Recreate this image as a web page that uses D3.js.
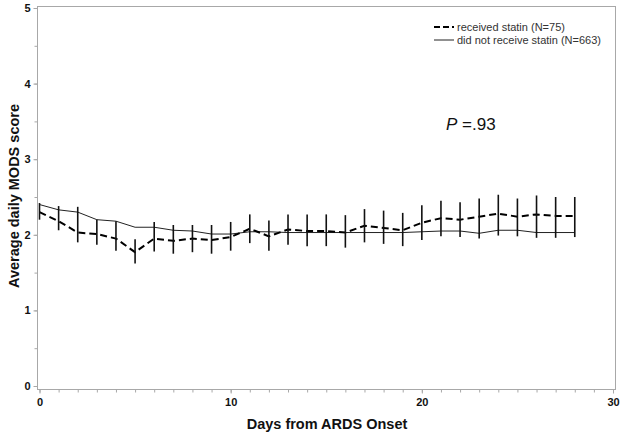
<!DOCTYPE html>
<html>
<head>
<meta charset="utf-8">
<script src="https://cdn.jsdelivr.net/npm/d3@7"></script>
<style>
  body { margin: 0; background: #fff; }
  svg { display: block; font-family: "Liberation Sans", Arial, sans-serif; }
</style>
</head>
<body>
<svg id="chart" width="624" height="434"></svg>
<script>
// days 0..28
const days = d3.range(0, 29);

// did not receive statin (solid)
const noStatin = [2.40, 2.33, 2.30, 2.20, 2.18, 2.10, 2.10, 2.06, 2.05, 2.01, 2.01, 2.04, 2.04, 2.03, 2.03,
                  2.03, 2.03, 2.03, 2.03, 2.03, 2.04, 2.05, 2.05, 2.02, 2.06, 2.06, 2.03, 2.03, 2.03];

// received statin (dashed)
const statin = [2.30, 2.18, 2.03, 2.01, 1.95, 1.77, 1.95, 1.92, 1.95, 1.93, 1.97, 2.08, 1.98, 2.07, 2.05,
                2.05, 2.03, 2.12, 2.09, 2.06, 2.16, 2.22, 2.20, 2.24, 2.28, 2.24, 2.27, 2.25, 2.25];

// error bar ends
const barLow  = [2.20, 2.06, 1.90, 1.87, 1.79, 1.62, 1.78, 1.75, 1.77, 1.75, 1.79, 1.89, 1.79, 1.87, 1.85,
                 1.85, 1.83, 1.90, 1.88, 1.85, 1.93, 1.98, 1.97, 1.95, 1.99, 1.98, 1.96, 1.96, 1.97];
const barHigh = [2.42, 2.38, 2.37, 2.20, 2.18, 1.94, 2.17, 2.13, 2.13, 2.13, 2.17, 2.27, 2.19, 2.27, 2.27,
                 2.27, 2.26, 2.34, 2.32, 2.29, 2.39, 2.45, 2.43, 2.48, 2.53, 2.48, 2.52, 2.50, 2.50];

const xTicks = [0, 10, 20, 30];
const yTicks = [0, 1, 2, 3, 4, 5];

const svg = d3.select('#chart');
const frame = { left: 37.5, right: 615.5, top: 6.5, bottom: 389.5 };

const x = d3.scaleLinear().domain([0, 30]).range([39.5, 613]);
const y = d3.scaleLinear().domain([0, 5]).range([386, 8]);

// frame
svg.append('rect')
    .attr('x', frame.left).attr('y', frame.top)
    .attr('width', frame.right - frame.left).attr('height', frame.bottom - frame.top)
    .attr('fill', 'none').attr('stroke', '#a8a8a8').attr('stroke-width', 1);

// x axis
const xAxis = svg.append('g').attr('transform', `translate(0,${frame.bottom})`);
xAxis.call(d3.axisBottom(x).tickValues(d3.range(0, 31)).tickSize(3).tickFormat(''))
    .call(g => g.select('.domain').remove())
    .call(g => g.selectAll('line').attr('stroke', '#a8a8a8'));
xAxis.append('g')
    .call(d3.axisBottom(x).tickValues(xTicks).tickSize(4).tickFormat(d3.format('d')))
    .call(g => g.select('.domain').remove())
    .call(g => g.selectAll('line').attr('stroke', '#a8a8a8'))
    .call(g => g.selectAll('text').attr('font-size', 11).attr('font-weight', 'bold')
        .attr('fill', '#111').attr('font-family', '"Liberation Sans", Arial, sans-serif').attr('dy', '0.9em'));

// y axis
const yAxis = svg.append('g').attr('transform', `translate(${frame.left},0)`);
yAxis.call(d3.axisLeft(y).tickValues(d3.range(0, 5.01, 0.5)).tickSize(3).tickFormat(''))
    .call(g => g.select('.domain').remove())
    .call(g => g.selectAll('line').attr('stroke', '#a8a8a8'));
yAxis.append('g')
    .call(d3.axisLeft(y).tickValues(yTicks).tickSize(4).tickFormat(d3.format('d')))
    .call(g => g.select('.domain').remove())
    .call(g => g.selectAll('line').attr('stroke', '#a8a8a8'))
    .call(g => g.selectAll('text').attr('font-size', 11).attr('font-weight', 'bold')
        .attr('fill', '#111').attr('font-family', '"Liberation Sans", Arial, sans-serif'));

// axis titles
svg.append('text')
    .attr('x', 327).attr('y', 429)
    .attr('text-anchor', 'middle')
    .attr('font-size', 14.5).attr('font-weight', 'bold').attr('fill', '#111')
    .text('Days from ARDS Onset');

svg.append('text')
    .attr('transform', 'translate(19,196) rotate(-90)')
    .attr('text-anchor', 'middle')
    .attr('font-size', 14.5).attr('font-weight', 'bold').attr('fill', '#111')
    .text('Average daily MODS score');

// lines
const line = d3.line().x((d, i) => x(days[i])).y(d => y(d));

svg.append('path')
    .datum(noStatin)
    .attr('d', line)
    .attr('fill', 'none').attr('stroke', '#222').attr('stroke-width', 1);

svg.append('path')
    .datum(statin)
    .attr('d', line)
    .attr('fill', 'none').attr('stroke', '#000').attr('stroke-width', 2)
    .attr('stroke-dasharray', '7,4');

// error bars
svg.append('g')
    .selectAll('line')
    .data(days)
    .join('line')
    .attr('x1', d => x(d)).attr('x2', d => x(d))
    .attr('y1', (d, i) => y(barLow[i]))
    .attr('y2', (d, i) => y(barHigh[i]))
    .attr('stroke', '#111').attr('stroke-width', 1.6);

// legend
const legend = svg.append('g').attr('transform', 'translate(434,27)');
legend.append('line').attr('x1', 0).attr('x2', 20).attr('y1', 0).attr('y2', 0)
    .attr('stroke', '#000').attr('stroke-width', 2).attr('stroke-dasharray', '6,3');
legend.append('text').attr('x', 23).attr('y', 4)
    .attr('font-size', 11).attr('fill', '#333').text('received statin (N=75)');
legend.append('line').attr('x1', 0).attr('x2', 20).attr('y1', 13).attr('y2', 13)
    .attr('stroke', '#222').attr('stroke-width', 1);
legend.append('text').attr('x', 23).attr('y', 17)
    .attr('font-size', 11).attr('fill', '#333').text('did not receive statin (N=663)');

// p value
const p = svg.append('text').attr('x', 446).attr('y', 130).attr('font-size', 17).attr('fill', '#111');
p.append('tspan').attr('font-style', 'italic').text('P');
p.append('tspan').text(' =.93');
</script>
</body>
</html>
